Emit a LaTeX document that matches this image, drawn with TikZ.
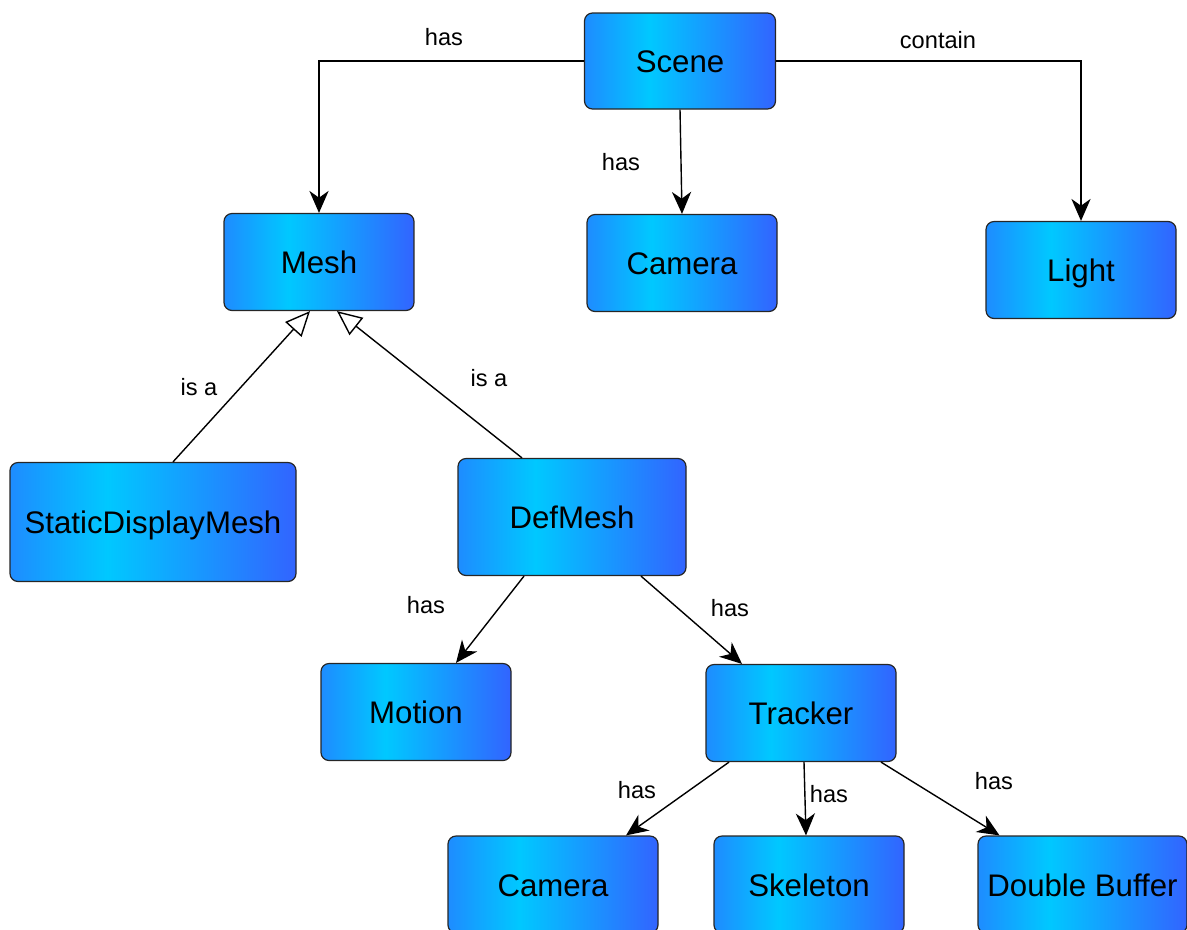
\documentclass[tikz,border=0pt]{standalone}
\usepackage{fontspec}
\setmainfont{Liberation Sans}
\usetikzlibrary{arrows.meta}
\definecolor{boxleft}{RGB}{30,140,255}
\definecolor{boxmid}{RGB}{0,200,255}
\definecolor{boxright}{RGB}{50,100,255}
\pgfdeclarehorizontalshading{boxshade}{100bp}{color(0bp)=(boxleft); color(25bp)=(boxleft); color(42bp)=(boxmid); color(75bp)=(boxright); color(100bp)=(boxright)}
\tikzset{
  box/.style={draw=black!85, line width=0.03cm, rounded corners=0.2cm, shading=boxshade,
    minimum width=4.75cm, minimum height=2.425cm, inner sep=0pt,
    font=\fontsize{22.2}{26}\selectfont, text height=0.575cm, text depth=0cm},
  lbl/.style={font=\fontsize{16.8}{20}\selectfont, inner sep=0pt},
  hasline/.style={line width=0.035cm, -{Stealth[length=0.55cm,width=0.48cm,inset=0.17cm]}},
  isaline/.style={line width=0.035cm, -{Triangle[open,length=0.62cm,width=0.55cm]}},
}

\begin{document}
\begin{tikzpicture}
			%%%%% START %%%%%
			\useasboundingbox (0,0) rectangle (29.675,-23.225);
			\clip (0,0) rectangle (29.675,-23.225);
			
			% top row
			\node[box, minimum width=4.775cm, minimum height=2.4cm] (scene) at (17.0,-1.525) {Scene};
			\node[box] (mesh) at (7.975,-6.55) {Mesh};
			\node[box] (camtop) at (17.05,-6.575) {Camera};
			\node[box] (light) at (27.025,-6.75) {Light};
			
			% meshes
			\node[box, minimum width=7.15cm, minimum height=2.975cm] (sdmesh) at (3.825,-13.05) {StaticDisplayMesh};
			\node[box, minimum width=5.7cm, minimum height=2.925cm] (defmesh) at (14.3,-12.925) {DefMesh};
			\node[box] (motion) at (10.4,-17.8) {Motion};
			\node[box] (tracker) at (20.025,-17.825) {Tracker};
			
			% bottom row
			\node[box, minimum width=5.25cm] (cambot) at (13.825,-22.1125) {Camera};
			\node[box] (skeleton) at (20.225,-22.1125) {Skeleton};
			\node[box, minimum width=5.225cm] (dbuffer) at (27.0625,-22.1125) {Double Buffer};
			
			% connectors
			\draw[hasline] (scene.west) -| (mesh.north);
			\draw[hasline] (scene.east) -| (light.north);
			\draw[hasline] (scene.south) -- (camtop.north);
			
			\draw[isaline] ([xshift=0.5cm]sdmesh.north) -- ([xshift=-0.225cm]mesh.south);
			\draw[isaline] ([xshift=-1.25cm]defmesh.north) -- ([xshift=0.45cm]mesh.south);
			
			\draw[hasline] ([xshift=-1.2cm]defmesh.south) -- ([xshift=1.0cm]motion.north);
			\draw[hasline] ([xshift=1.725cm]defmesh.south) -- ([xshift=-1.475cm]tracker.north);
			
			\draw[hasline] ([xshift=-1.8cm]tracker.south) -- ([xshift=1.825cm]cambot.north);
			\draw[hasline] ([xshift=0.075cm]tracker.south) -- ([xshift=-0.075cm]skeleton.north);
			\draw[hasline] ([xshift=2.0cm]tracker.south) -- ([xshift=-2.075cm]dbuffer.north);
			
			% labels
			\node[lbl] (l1) at (11.1,-0.925) {has};
			\node[lbl] (l2) at (23.45,-1.0) {contain};
			\node[lbl] (l3) at (15.525,-4.05) {has};
			\node[lbl] (l4) at (4.975,-9.675) {is a};
			\node[lbl] (l5) at (12.225,-9.45) {is a};
			\node[lbl] (l6) at (10.65,-15.125) {has};
			\node[lbl] (l7) at (18.25,-15.2) {has};
			\node[lbl] (l8) at (15.925,-19.75) {has};
			\node[lbl] (l9) at (20.725,-19.85) {has};
			\node[lbl] (l10) at (24.85,-19.525) {has};
			
			%%%%% END %%%%%
\end{tikzpicture}
\end{document}
